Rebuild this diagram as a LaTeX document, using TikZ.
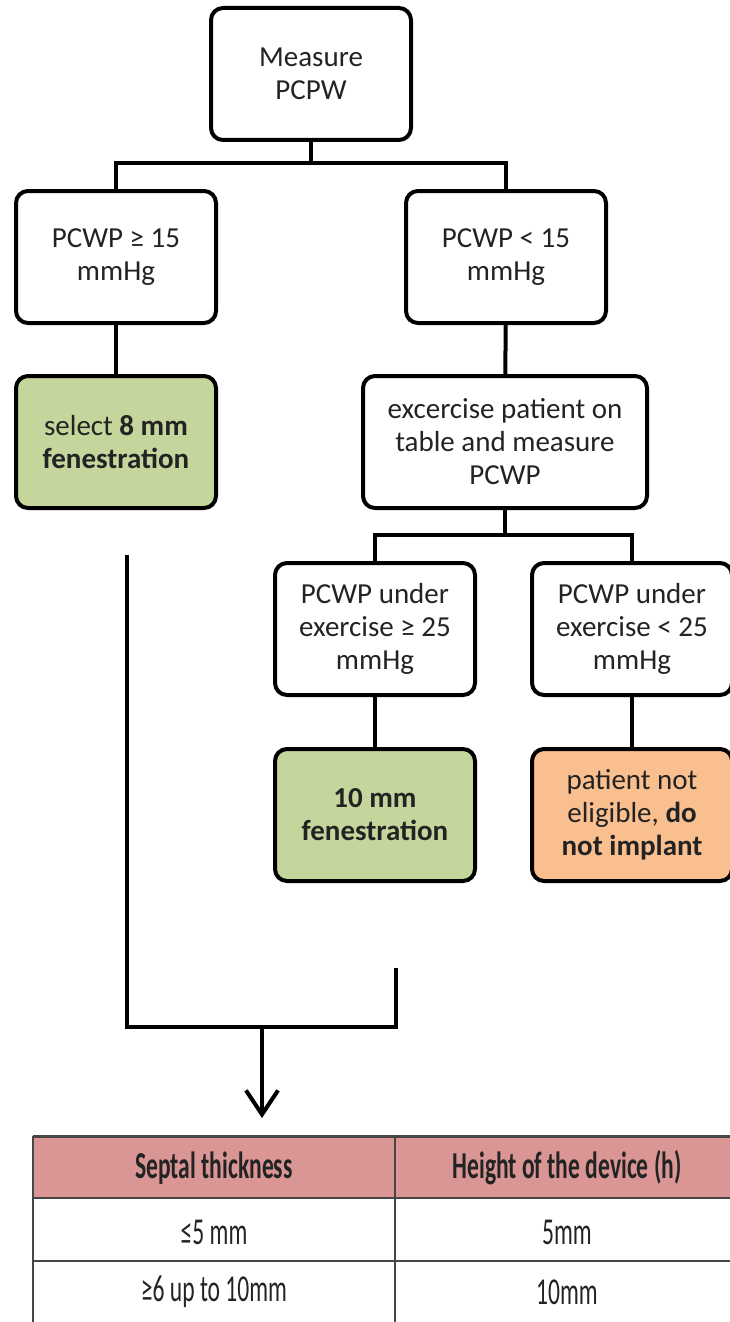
\documentclass[tikz,border=0pt]{standalone}
\usepackage{fontspec}
\setmainfont{Carlito}
\newfontfamily\tablefont[FakeStretch=0.62]{Carlito}
\usepackage{tikz}
\usetikzlibrary{arrows.meta,calc}
\definecolor{boxgreen}{RGB}{196,214,155}
\definecolor{boxorange}{RGB}{250,191,143}
\definecolor{headpink}{RGB}{217,150,148}
\definecolor{inkgray}{RGB}{35,35,35}
\definecolor{gridgray}{RGB}{70,70,70}
\tikzstyle{flowbox}=[draw=black, line width=2pt, rounded corners=6pt, align=center, inner sep=0pt, minimum width=100pt, minimum height=66pt, text=inkgray, font=\fontsize{14.5}{16.5}\selectfont]
\tikzstyle{greenbox}=[flowbox, fill=boxgreen]
\tikzstyle{orangebox}=[flowbox, fill=boxorange]
\tikzstyle{link}=[line width=2pt, black]
\tikzstyle{gridline}=[line width=1pt, gridgray]
\tikzstyle{cell}=[text=inkgray, font=\tablefont\fontsize{19}{22}\selectfont]
\newcommand{\tabL}{33}
\newcommand{\tabM}{395}
\newcommand{\tabR}{745}
\begin{document}
\begin{tikzpicture}[x=0.5pt, y=-0.5pt]
\useasboundingbox (0,0) rectangle (729,1322);
% flow chart boxes
\node[flowbox] (measure) at (311,74) {Measure\\PCPW};
\node[flowbox] (pcwphigh) at (116,257) {PCWP ≥ 15\\mmHg};
\node[flowbox] (pcwplow) at (506,257) {PCWP < 15\\mmHg};
\node[greenbox] (sel8) at (116,442) {select \textbf{8 mm}\\\textbf{fenestration}};
\node[flowbox, minimum width=142pt] (exercise) at (505,442) {excercise patient on\\table and measure\\PCWP};
\node[flowbox] (exhigh) at (375,629) {PCWP under\\exercise ≥ 25\\mmHg};
\node[flowbox] (exlow) at (632,629) {PCWP under\\exercise < 25\\mmHg};
\node[greenbox] (fen10) at (375,815) {\textbf{10 mm}\\\textbf{fenestration}};
\node[orangebox] (noimpl) at (632,815) {patient not\\eligible, \textbf{do}\\\textbf{not implant}};
% branch points
\coordinate (split1) at (311,163);
\coordinate (split2) at (505,535);
\draw[link] (measure) -- (split1) -| (pcwphigh);
\draw[link] (split1) -| (pcwplow);
\draw[link] (pcwphigh) -- (sel8);
\draw[link] (pcwplow) -- (exercise);
\draw[link] (exercise) -- (split2) -| (exhigh);
\draw[link] (split2) -| (exlow);
\draw[link] (exhigh) -- (fen10);
\draw[link] (exlow) -- (noimpl);
% joining lines to the table
\coordinate (selend) at (127,555);
\coordinate (fenend) at (396,968);
\coordinate (merge) at (262,1027);
\coordinate (tabtop) at (262,1118);
\draw[link] (selend) |- (merge) -| (fenend);
\draw[link, -{Straight Barb[length=12pt, width=16pt]}] (merge) -- (tabtop);
% table
\fill[headpink] (\tabL,1136) rectangle (\tabR,1198);
\draw[line width=1.5pt, gridgray] (\tabL,1136) -- (\tabR,1136);
\foreach \y in {1198,1261} {
	\draw[gridline] (\tabL,\y) -- (\tabR,\y);
}
\draw[gridline] (\tabL,1136) -- (\tabL,1330);
\draw[gridline] (\tabM,1136) -- (\tabM,1330);
\node[cell] (headthick) at (214,1168) {\textbf{Septal thickness}};
\node[cell] (headheight) at (567,1168) {\textbf{Height of the device (h)}};
\node[cell] (thinthick) at (214,1232) {≤5 mm};
\node[cell] (thinheight) at (567,1232) {5mm};
\node[cell] (widethick) at (214,1292) {≥6 up to 10mm};
\node[cell] (wideheight) at (567,1292) {10mm};
\end{tikzpicture}
\end{document}
